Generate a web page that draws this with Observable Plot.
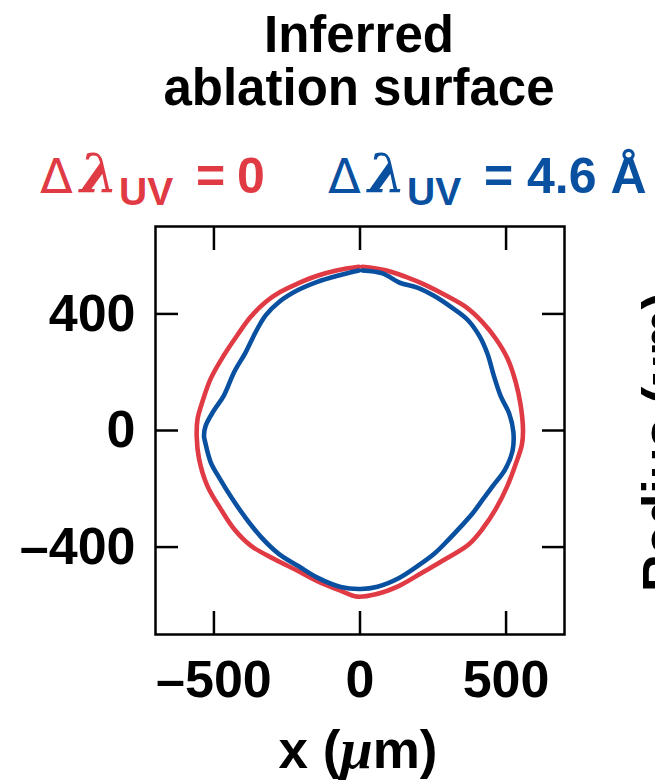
<!DOCTYPE html>
<html><head><meta charset="utf-8">
<script src="https://cdn.jsdelivr.net/npm/d3@7"></script>
<script src="https://cdn.jsdelivr.net/npm/@observablehq/plot@0.6"></script>
<style>body{margin:0;background:#fff;} svg{display:block}</style>
</head><body><div id="chart"></div>
<script>
// Red curve: Δλ_UV = 0 (clockwise from top)
const redX = [8, 88, 157, 225, 293, 362, 419, 465, 505, 533, 550, 558, 554, 533, 505, 465, 419, 373, 293, 214, 134, 54, -10, -66, -135, -214, -294, -374, -431, -477, -523, -551, -559, -556, -540, -511, -466, -420, -374, -323, -272, -214, -146, -77, -4];
const redY = [562, 550, 527, 499, 464, 424, 372, 315, 247, 166, 86, 0, -50, -115, -189, -269, -338, -390, -441, -487, -533, -562, -570, -550, -522, -481, -441, -395, -338, -269, -189, -97, -20, 40, 97, 178, 258, 327, 390, 441, 476, 504, 531, 550, 562];
// Blue curve: Δλ_UV = 4.6 Å (clockwise from top)
const blueX = [8, 77, 136, 196, 253, 311, 368, 410, 436, 459, 482, 510, 525, 522, 496, 455, 418, 385, 345, 300, 253, 196, 134, 60, 2, -66, -146, -210, -277, -340, -395, -440, -480, -511, -530, -534, -528, -500, -466, -431, -391, -357, -323, -277, -214, -146, -77, -4];
const blueY = [549, 539, 507, 490, 462, 424, 380, 322, 264, 185, 117, 60, -5, -70, -135, -190, -240, -285, -330, -378, -424, -466, -506, -536, -544, -537, -505, -466, -424, -364, -295, -230, -165, -109, -40, -17, 17, 69, 120, 200, 269, 338, 395, 441, 481, 510, 531, 549];

const xTicks = [-500, 0, 500];
const yTicks = [-400, 0, 400];
const titleLines = ["Inferred", "ablation surface"];
const legendValues = ["0", "4.6 Å"];
const colors = ["#e03a44", "#0a50a1"];

const red = redX.map((x, i) => ({x, y: redY[i]}));
const blue = blueX.map((x, i) => ({x, y: blueY[i]}));
const fmt = d => d < 0 ? "\u2013" + Math.abs(d) : String(d);
const FONT = "'Liberation Sans', Arial, Helvetica, sans-serif";
const SERIF = "'DejaVu Serif', 'Liberation Serif', serif";

const tickOpts = {tickFormat: () => "", label: null, strokeWidth: 2.5};
const svg = Plot.plot({
  width: 655, height: 781,
  marginTop: 226, marginBottom: 147, marginLeft: 155, marginRight: 91,
  x: {domain: [-700, 700]},
  y: {domain: [-700, 700]},
  style: {fontFamily: FONT, fontWeight: "bold", background: "#fff", color: "#000"},
  marks: [
    Plot.axisX(xTicks, {anchor: "bottom", tickSize: 0, tickPadding: 26, tickFormat: fmt, fontSize: 52, label: null}),
    Plot.axisY(yTicks, {anchor: "left", tickSize: 0, tickPadding: 20, tickFormat: fmt, fontSize: 52, label: null}),
    Plot.axisX(xTicks, {anchor: "bottom", tickSize: -23, ...tickOpts}),
    Plot.axisX(xTicks, {anchor: "top", tickSize: -23, ...tickOpts}),
    Plot.axisY(yTicks, {anchor: "left", tickSize: -23, ...tickOpts}),
    Plot.axisY(yTicks, {anchor: "right", tickSize: -23, ...tickOpts}),
    Plot.line(red, {x: "x", y: "y", stroke: colors[0], strokeWidth: 4.6, curve: "catmull-rom"}),
    Plot.line(blue, {x: "x", y: "y", stroke: colors[1], strokeWidth: 4.6, curve: "catmull-rom"}),
    Plot.frame({stroke: "#000", strokeWidth: 2.5})
  ]
});

const s = d3.select(svg);
// Title (two lines in one text)
const tt = s.append("text").attr("text-anchor", "middle").attr("font-size", 51)
  .attr("font-weight", "bold").attr("font-family", FONT).attr("fill", "#000");
titleLines.forEach((t, i) => {
  tt.append("tspan").attr("x", 359).attr("y", 52 + i * 53).text(t);
});
// Legend
function legend(x0, value, color) {
  const t = s.append("text").attr("y", 193).attr("fill", color).attr("text-anchor", "start")
    .attr("font-family", FONT).attr("font-weight", "bold").attr("font-size", 50);
  t.append("tspan").attr("x", x0).attr("font-family", "'DejaVu Sans', sans-serif").attr("font-weight", "normal")
    .attr("font-size", 48).text("Δ");
  t.append("tspan").attr("x", x0 + 40).attr("font-family", SERIF).attr("font-style", "italic")
    .attr("font-size", 54).text("λ");
  t.append("tspan").attr("x", x0 + 79).attr("dy", 12).attr("font-size", 39).text("UV");
  t.append("tspan").attr("x", x0 + 156).attr("dy", -12).text("=");
  t.append("tspan").attr("x", x0 + (value.length > 1 ? 199 : 197)).text(value);
}
legend(40, legendValues[0], colors[0]);
legend(328, legendValues[1], colors[1]);
// x-axis label
const xl = s.append("text").attr("x", 358).attr("y", 768).attr("text-anchor", "middle")
  .attr("font-family", FONT).attr("font-weight", "bold").attr("font-size", 53).attr("fill", "#000");
xl.append("tspan").text("x (");
xl.append("tspan").attr("font-family", "'Liberation Serif', serif").attr("font-style", "italic").attr("font-size", 58).text("μ");
xl.append("tspan").text("m)");
// neighbouring panel's axis label (cut off at right edge, as in the reference)
const rl = s.append("text").attr("transform", "translate(679,442) rotate(-90)").attr("text-anchor", "middle")
  .attr("font-family", FONT).attr("font-weight", "bold").attr("font-size", 52).attr("fill", "#000");
rl.append("tspan").text("Radius (");
rl.append("tspan").attr("font-family", "'Liberation Serif', serif").attr("font-style", "italic").attr("font-size", 56).text("μ");
rl.append("tspan").text("m)");

document.getElementById("chart").appendChild(svg);
</script>
</body></html>
